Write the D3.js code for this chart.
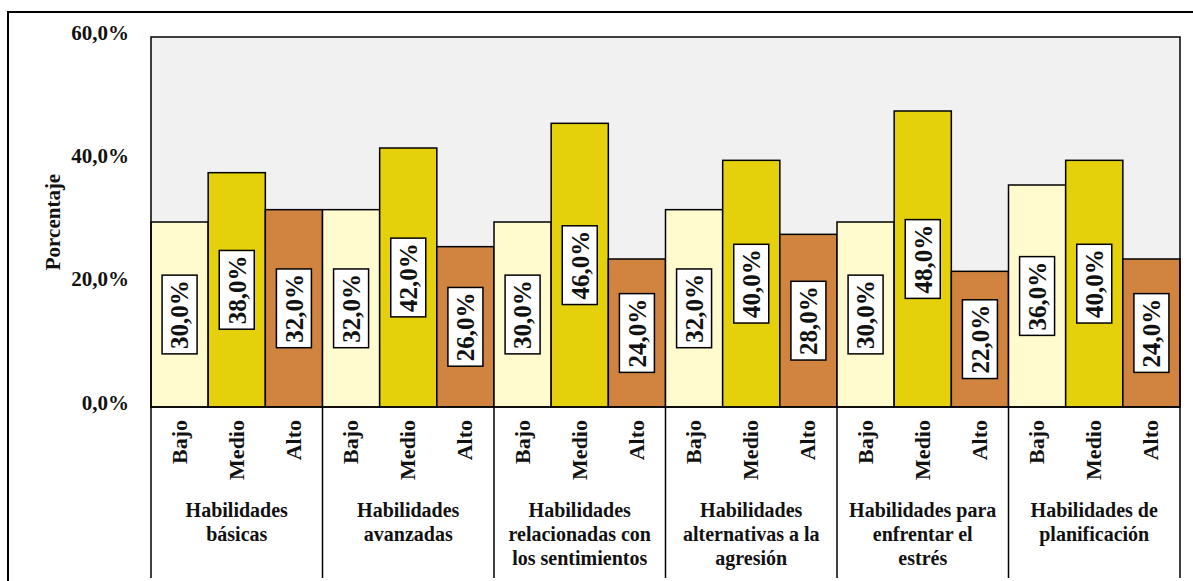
<!DOCTYPE html>
<html>
<head>
<meta charset="utf-8">
<script src="https://cdn.jsdelivr.net/npm/d3@7"></script>
<style>
  body { margin: 0; background: #fff; }
  text { font-family: "Liberation Serif", "Times New Roman", serif; font-weight: bold; fill: #111; }
</style>
</head>
<body>
<svg id="chart" width="1193" height="581"></svg>
<script>
// data
const groups = [
  ["Habilidades", "básicas"],
  ["Habilidades", "avanzadas"],
  ["Habilidades", "relacionadas con", "los sentimientos"],
  ["Habilidades", "alternativas a la", "agresión"],
  ["Habilidades para", "enfrentar el", "estrés"],
  ["Habilidades de", "planificación"]
];
const levels = ["Bajo", "Medio", "Alto"];
const bajo  = [30, 32, 30, 32, 30, 36];
const medio = [38, 42, 46, 40, 48, 40];
const alto  = [32, 26, 24, 28, 22, 24];
const yTicks = [0, 20, 40, 60];
const colors = ["#fffbcf", "#e4d10c", "#d08440"];

const svg = d3.select("#chart");
const margin = {top: 37, right: 13, bottom: 174, left: 151};
const W = +svg.attr("width"), H = +svg.attr("height");
const width = W - margin.left - margin.right;   // 1029
const height = H - margin.top - margin.bottom;  // 370

const loc = d3.formatLocale({decimal: ",", thousands: ".", grouping: [3], currency: ["", ""]});
const fmt = d => loc.format(".1f")(d) + "%";

const rows = groups.map((g, i) => ({
  key: i, label: g,
  vals: [bajo[i], medio[i], alto[i]]
}));

const x0 = d3.scaleBand().domain(d3.range(groups.length)).range([0, width]).padding(0);
const x1 = d3.scaleBand().domain(levels).range([0, x0.bandwidth()]).padding(0);
const y = d3.scaleLinear().domain([0, 60]).range([height, 0]);

// outer frame
svg.append("rect")
  .attr("x", 8).attr("y", 12).attr("width", 1200).attr("height", 600)
  .attr("fill", "#fff").attr("stroke", "#000").attr("stroke-width", 2);

const g = svg.append("g").attr("transform", `translate(${margin.left},${margin.top})`);

// plot background
g.append("rect")
  .attr("width", width).attr("height", height)
  .attr("fill", "#f1f1f1");

// y axis (labels only)
const yAxis = d3.axisLeft(y).tickValues(yTicks).tickFormat(fmt).tickSize(0).tickPadding(22);
g.append("g").call(yAxis)
  .call(a => a.select(".domain").remove())
  .selectAll("text")
  .style("font-size", "21px")
  .style("font-family", "Liberation Serif")
  .attr("dy", "0.1em");

svg.append("text")
  .attr("transform", `translate(60,${margin.top + height / 2}) rotate(-90)`)
  .attr("text-anchor", "middle")
  .style("font-size", "21px")
  .text("Porcentaje");

// bars
const gg = g.selectAll(".grp").data(rows).join("g")
  .attr("class", "grp")
  .attr("transform", d => `translate(${x0(d.key)},0)`);

const bars = gg.selectAll(".bar")
  .data(d => d.vals.map((v, j) => ({lvl: levels[j], v: v, j: j})))
  .join("g").attr("class", "bar");

bars.append("rect")
  .attr("x", d => x1(d.lvl))
  .attr("y", d => y(d.v))
  .attr("width", x1.bandwidth())
  .attr("height", d => height - y(d.v))
  .attr("fill", (d) => colors[d.j])
  .attr("stroke", "#000").attr("stroke-width", 1.5);

// value labels in boxes
bars.each(function(d) {
  const b = d3.select(this);
  const cx = x1(d.lvl) + x1.bandwidth() / 2;
  const cy = (y(d.v) + height) / 2;
  const lbl = b.append("g").attr("transform", `translate(${cx},${cy}) rotate(-90)`);
  const t = lbl.append("text")
    .attr("text-anchor", "middle")
    .attr("dy", "0.35em")
    .style("font-size", "25px")
    .text(fmt(d.v));
  const len = t.node().getComputedTextLength();
  lbl.insert("rect", "text")
    .attr("x", -len / 2 - 5).attr("y", -17.5)
    .attr("width", len + 10).attr("height", 35)
    .attr("fill", "#fff").attr("stroke", "#000").attr("stroke-width", 1.5);
});

// plot frame
g.append("rect")
  .attr("width", width).attr("height", height)
  .attr("fill", "none").attr("stroke", "#000").attr("stroke-width", 1.5);

// category area: separators
const bounds = d3.range(groups.length + 1).map(i => i < groups.length ? x0(i) : width);
g.selectAll(".sep").data(bounds).join("line")
  .attr("x1", d => d).attr("x2", d => d)
  .attr("y1", height).attr("y2", H - margin.top - 3)
  .attr("stroke", "#000").attr("stroke-width", 1.5);

// level labels
gg.selectAll(".lvl").data(levels).join("text")
  .attr("transform", d => `translate(${x1(d) + x1.bandwidth() / 2 + 7},${height + 13}) rotate(-90)`)
  .attr("text-anchor", "end")
  .style("font-size", "22px")
  .text(d => d);

// group labels
gg.append("text")
  .attr("text-anchor", "middle")
  .attr("x", x0.bandwidth() / 2)
  .style("font-size", "20px")
  .selectAll("tspan").data(d => d.label).join("tspan")
  .attr("x", x0.bandwidth() / 2)
  .attr("y", (d, i) => height + 110 + i * 24)
  .text(d => d);
</script>
</body>
</html>
